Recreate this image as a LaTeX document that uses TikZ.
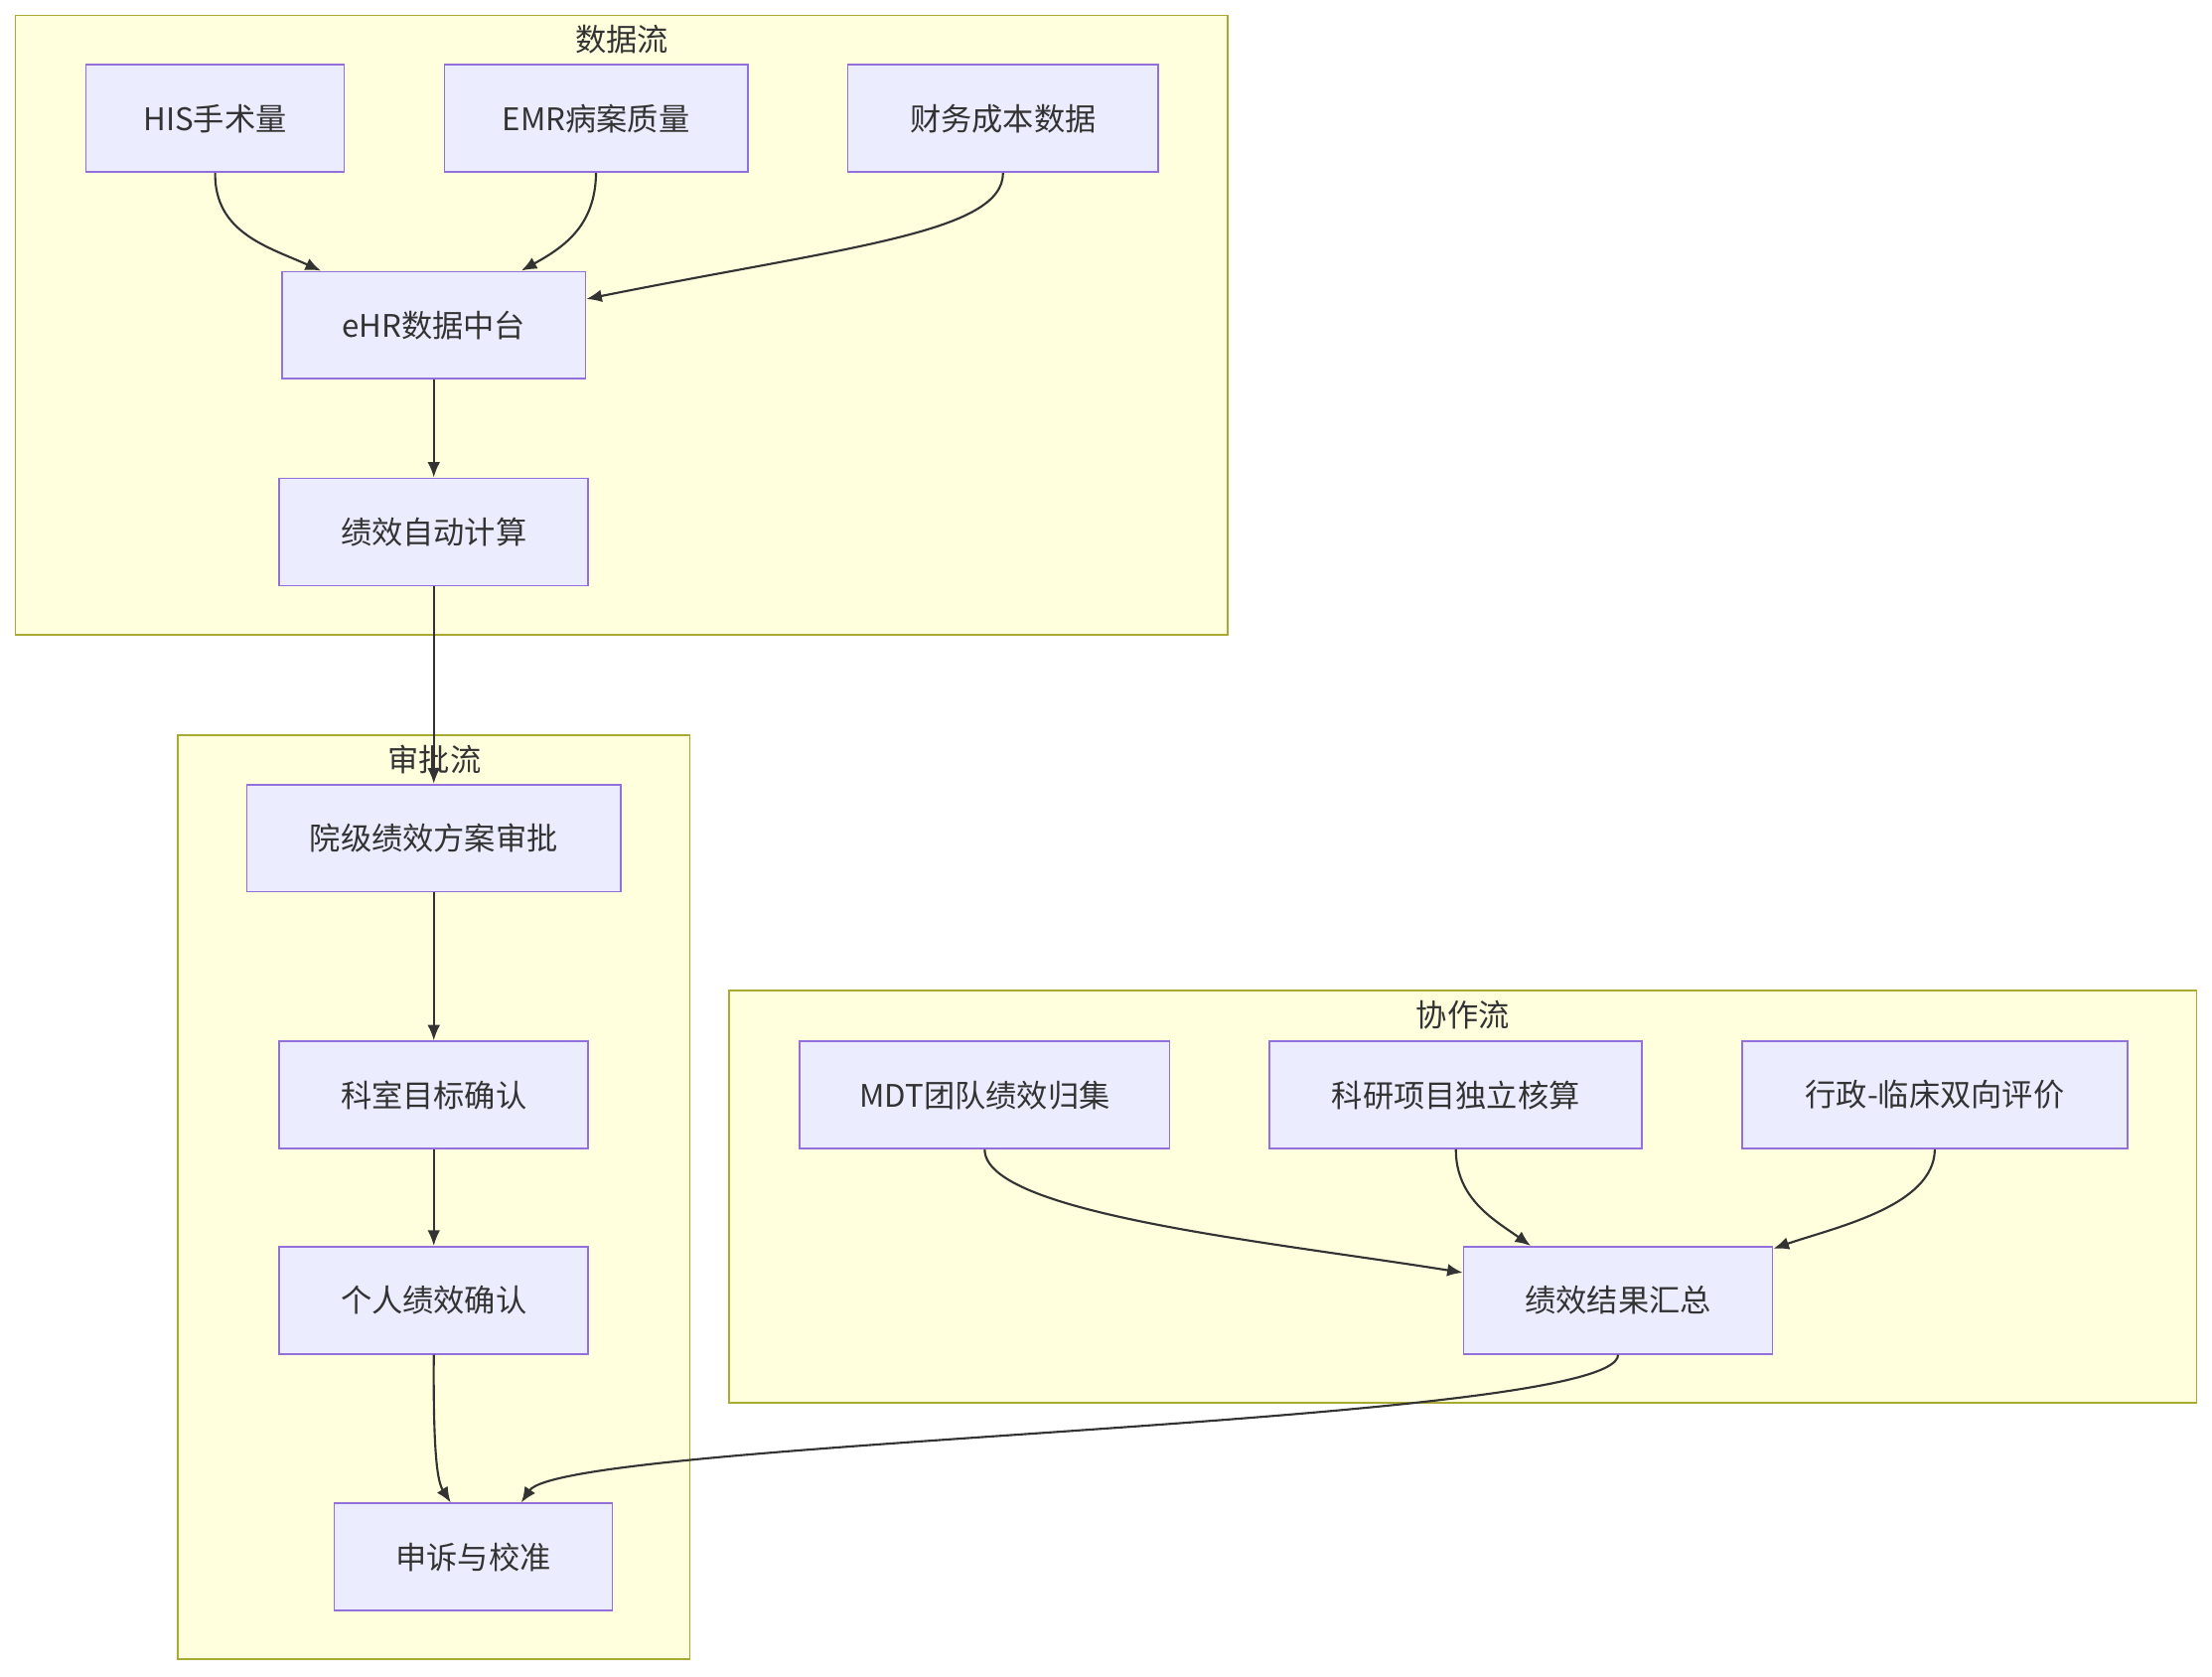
\documentclass[tikz,border=0pt]{standalone}
\usepackage{fontspec}
\setmainfont{Noto Sans CJK SC}
\usetikzlibrary{arrows.meta}
\definecolor{boxfill}{HTML}{ECECFF}
\definecolor{boxline}{HTML}{9370DB}
\definecolor{clfill}{HTML}{FFFFDE}
\definecolor{clline}{HTML}{AAAA33}
\definecolor{edge}{HTML}{333333}
\tikzset{
  nbox/.style={draw=boxline,fill=boxfill,line width=1.2pt,font=\fontsize{22}{26}\selectfont,text=edge},
  cl/.style={draw=clline,fill=clfill,line width=1.2pt},
  cltitle/.style={font=\fontsize{22}{26}\selectfont,text=edge},
  edg/.style={draw=edge,line width=1.5pt,-{Latex[length=11pt,width=9pt]}}
}
\newcommand{\bx}[6]{\node[nbox,minimum width=#4pt,minimum height=#5pt] (#1) at (#2pt,-#3pt) {#6};}
\begin{document}
\begin{tikzpicture}[x=1pt,y=1pt]
\useasboundingbox (0,0) rectangle (1568,-1188);
\path[fill=white] (0,0) rectangle (1568,-1188);
\draw[cl] (11,-11) rectangle (870,-450);
\node[cltitle] (t1) at (441,-28) {数据流};
\draw[cl] (126,-521) rectangle (489,-1176);
\node[cltitle] (t2) at (308,-538) {审批流};
\draw[cl] (517,-702) rectangle (1557,-994);
\node[cltitle] (t3) at (1037,-719) {协作流};
\bx{his}{152.5}{84}{183}{76}{HIS手术量}
\bx{emr}{422.5}{84}{215}{76}{EMR病案质量}
\bx{fin}{711}{84}{220}{76}{财务成本数据}
\bx{ehr}{307.5}{230.5}{215}{76}{eHR数据中台}
\bx{calc}{307.5}{377}{219}{76}{绩效自动计算}
\bx{yuan}{307.5}{594}{265}{76}{院级绩效方案审批}
\bx{ks}{307.5}{776}{219}{76}{科室目标确认}
\bx{gr}{307.5}{921.5}{219}{76}{个人绩效确认}
\bx{ss}{335.5}{1103.5}{197}{76}{申诉与校准}
\bx{mdt}{698}{776}{262}{76}{MDT团队绩效归集}
\bx{ky}{1032}{776}{264}{76}{科研项目独立核算}
\bx{xz}{1371.5}{776}{273}{76}{行政-临床双向评价}
\bx{hz}{1147}{921.5}{219}{76}{绩效结果汇总}
\draw[edg] (his.south) .. controls (152,-165) and (190,-175) .. ([xshift=-80pt]ehr.north);
\draw[edg] (emr.south) .. controls (422,-160) and (400,-175) .. ([xshift=62pt]ehr.north);
\draw[edg] (fin.south) .. controls (711,-165) and (600,-175) .. ([yshift=-20pt]ehr.north east);
\draw[edg] (ehr) -- (calc);
\draw[edg] (calc) -- (yuan);
\draw[edg] (yuan) -- (ks);
\draw[edg] (ks) -- (gr);
\draw[edg] (gr.south) .. controls (307,-1030) and (310,-1050) .. ([xshift=-16pt]ss.north);
\draw[edg] (mdt.south) .. controls (698,-860) and (900,-880) .. ([yshift=-19pt]hz.north west);
\draw[edg] (ky.south) .. controls (1032,-850) and (1060,-865) .. ([xshift=-62pt]hz.north);
\draw[edg] (xz.south) .. controls (1371,-855) and (1300,-870) .. ([yshift=-2pt]hz.north east);
\draw[edg] (hz.south) .. controls (1147,-1010) and (400,-1020) .. ([xshift=34pt]ss.north);
\end{tikzpicture}
\end{document}
